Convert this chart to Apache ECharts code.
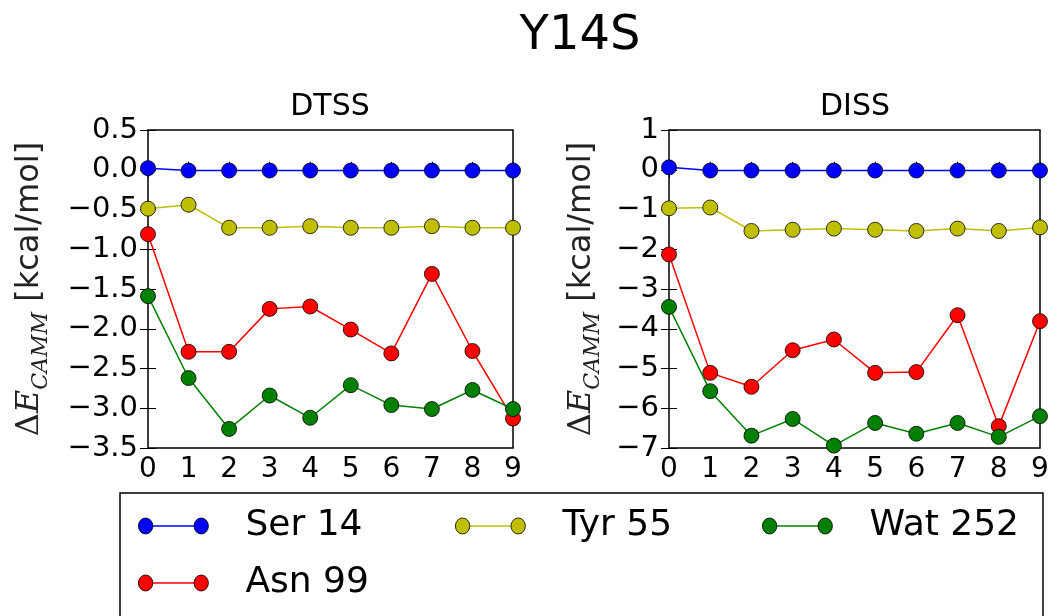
<!DOCTYPE html>
<html><head><meta charset="utf-8">
<script src="https://cdn.jsdelivr.net/npm/echarts@6/dist/echarts.min.js"></script>
<style>html,body{margin:0;padding:0;background:#fff}#c{width:1055px;height:616px}</style>
</head><body><div id="c"></div>
<script>
const frames = [0, 1, 2, 3, 4, 5, 6, 7, 8, 9];
const panelTitles = ['DTSS', 'DISS'];
const seriesNames = ['Ser 14', 'Asn 99', 'Tyr 55', 'Wat 252'];
const seriesColors = ['#0000ff', '#ff0000', '#bfbf00', '#008000'];

const dtssSer = [0.02, -0.01, -0.01, -0.01, -0.01, -0.01, -0.01, -0.01, -0.01, -0.01];
const dtssAsn = [-0.81, -2.29, -2.29, -1.75, -1.72, -2.01, -2.31, -1.31, -2.28, -3.13];
const dtssTyr = [-0.49, -0.44, -0.73, -0.73, -0.71, -0.73, -0.73, -0.71, -0.73, -0.73];
const dtssWat = [-1.59, -2.62, -3.26, -2.84, -3.12, -2.71, -2.96, -3.01, -2.77, -3.01];

const dissSer = [0.06, -0.02, -0.02, -0.02, -0.02, -0.02, -0.02, -0.02, -0.02, -0.02];
const dissAsn = [-2.13, -5.11, -5.46, -4.54, -4.27, -5.11, -5.09, -3.66, -6.45, -3.81];
const dissTyr = [-0.97, -0.95, -1.54, -1.51, -1.48, -1.51, -1.54, -1.48, -1.54, -1.45];
const dissWat = [-3.45, -5.57, -6.69, -6.27, -6.94, -6.37, -6.64, -6.37, -6.72, -6.20];

const dtssY = {min: -3.5, max: 0.5, interval: 0.5, decimals: 1};
const dissY = {min: -7, max: 1, interval: 1, decimals: 0};

const FONT = 'DejaVu Sans';
const minus = s => s.replace('-', '\u2212');

function pairs(vals) { return frames.map((f, i) => [f, vals[i]]); }

const grids = [
  {left: 148, right: 1055 - 513, top: 130, height: 318},
  {left: 669, right: 1055 - 1040, top: 130, height: 318}
];

const xAxes = [], yAxes = [];
[dtssY, dissY].forEach((yr, g) => {
  const nameGap = g === 0 ? 96 : 65;
  xAxes.push({
    type: 'value', gridIndex: g, min: 0, max: 9, interval: 1, position: 'bottom',
    axisLine: {show: false}, splitLine: {show: false},
    axisTick: {inside: true, length: 8, lineStyle: {color: '#000', width: 1}},
    axisLabel: {color: '#000', fontFamily: FONT, fontSize: 28, margin: 8}
  });
  xAxes.push({
    type: 'value', gridIndex: g, min: 0, max: 9, interval: 1, position: 'top',
    axisLine: {show: false}, splitLine: {show: false},
    axisTick: {inside: true, length: 8, lineStyle: {color: '#000', width: 1}},
    axisLabel: {show: false}
  });
  yAxes.push({
    type: 'value', gridIndex: g, min: yr.min, max: yr.max, interval: yr.interval, position: 'left',
    axisLine: {show: false}, splitLine: {show: false},
    axisTick: {inside: true, length: 8, lineStyle: {color: '#000', width: 1}},
    axisLabel: {color: '#000', fontFamily: FONT, fontSize: 29, margin: 10,
      formatter: v => minus(v.toFixed(yr.decimals))},
    name: '{d|\u0394}{e|E}{s|CAMM}{n| [kcal/mol]}',
    nameLocation: 'middle', nameRotate: 90, nameGap: nameGap,
    nameTextStyle: {
      color: '#000',
      rich: {
        d: {fontFamily: 'DejaVu Serif', fontSize: 32, color: '#222', lineHeight: 44},
        e: {fontFamily: 'DejaVu Serif', fontStyle: 'italic', fontSize: 32, color: '#222', lineHeight: 44},
        s: {fontFamily: 'DejaVu Serif', fontStyle: 'italic', fontSize: 22, color: '#222', lineHeight: 27, verticalAlign: 'bottom'},
        n: {fontFamily: FONT, fontSize: 32, color: '#222', lineHeight: 44}
      }
    }
  });
  yAxes.push({
    type: 'value', gridIndex: g, min: yr.min, max: yr.max, interval: yr.interval, position: 'right',
    axisLine: {show: false}, splitLine: {show: false},
    axisTick: {inside: true, length: 8, lineStyle: {color: '#000', width: 1}},
    axisLabel: {show: false}
  });
});

const panelData = [
  [dtssSer, dtssAsn, dtssTyr, dtssWat],
  [dissSer, dissAsn, dissTyr, dissWat]
];
const series = [];
panelData.forEach((sets, g) => {
  sets.forEach((vals, k) => {
    series.push({
      type: 'line', name: seriesNames[k], xAxisIndex: g * 2, yAxisIndex: g * 2,
      data: pairs(vals), symbol: 'circle', symbolSize: 15, clip: true,
      color: seriesColors[k],
      lineStyle: {color: seriesColors[k], width: 1.5},
      itemStyle: {color: seriesColors[k], borderColor: '#000', borderWidth: 0.8},
      emphasis: {disabled: true}, z: 2 + k
    });
  });
});

// legend: column positions (icon left) and row centers
const legendPos = {
  'Ser 14': [138, 526], 'Tyr 55': [455, 526], 'Wat 252': [762, 526], 'Asn 99': [138, 583]
};
const LTXT = {color: '#000', fontFamily: FONT, fontSize: 36, lineHeight: 42, padding: [0, 0, 0, 32]};
const legends = [];
Object.keys(legendPos).forEach(nm => {
  const [lx, cy] = legendPos[nm];
  legends.push({
    data: [nm], left: lx, top: cy - 21, padding: 0, itemWidth: 62, itemHeight: 1.6,
    symbolKeepAspect: false, selectedMode: false, z: 4,
    icon: 'rect',
    itemStyle: {borderWidth: 0},
    textStyle: LTXT, formatter: () => ' '
  });
  legends.push({
    data: [nm], left: lx, top: cy - 21, padding: 0, itemWidth: 70, itemHeight: 16,
    symbolKeepAspect: false, selectedMode: false, z: 5,
    icon: 'path://M1,8A7,7 0 1,0 15,8A7,7 0 1,0 1,8Z M55,8A7,7 0 1,0 69,8A7,7 0 1,0 55,8Z',
    itemStyle: {borderColor: '#000', borderWidth: 0.8},
    textStyle: LTXT
  });
});

const option = {
  backgroundColor: '#fff',
  animation: false,
  title: [
    {text: 'Y14S', left: 580, top: 13, textAlign: 'center', padding: 0,
      textStyle: {fontFamily: FONT, fontSize: 48, fontWeight: 'normal', color: '#000'}},
    {text: panelTitles[0], left: 330, top: 92, textAlign: 'center', padding: 0,
      textStyle: {fontFamily: FONT, fontSize: 30, fontWeight: 'normal', color: '#000'}},
    {text: panelTitles[1], left: 855, top: 92, textAlign: 'center', padding: 0,
      textStyle: {fontFamily: FONT, fontSize: 30, fontWeight: 'normal', color: '#000'}}
  ],
  grid: grids.map(g => Object.assign({show: true, borderColor: '#000', borderWidth: 1.5, backgroundColor: 'transparent'}, g)),
  xAxis: xAxes,
  yAxis: yAxes,
  legend: legends,
  graphic: [{
    type: 'rect', shape: {x: 120, y: 493, width: 923, height: 140},
    style: {fill: null, stroke: '#000', lineWidth: 1.5}, silent: true
  }],
  series: series
};

const chart = echarts.init(document.getElementById('c'), null, {renderer: 'canvas'});
chart.setOption(option);
</script>
</body></html>
